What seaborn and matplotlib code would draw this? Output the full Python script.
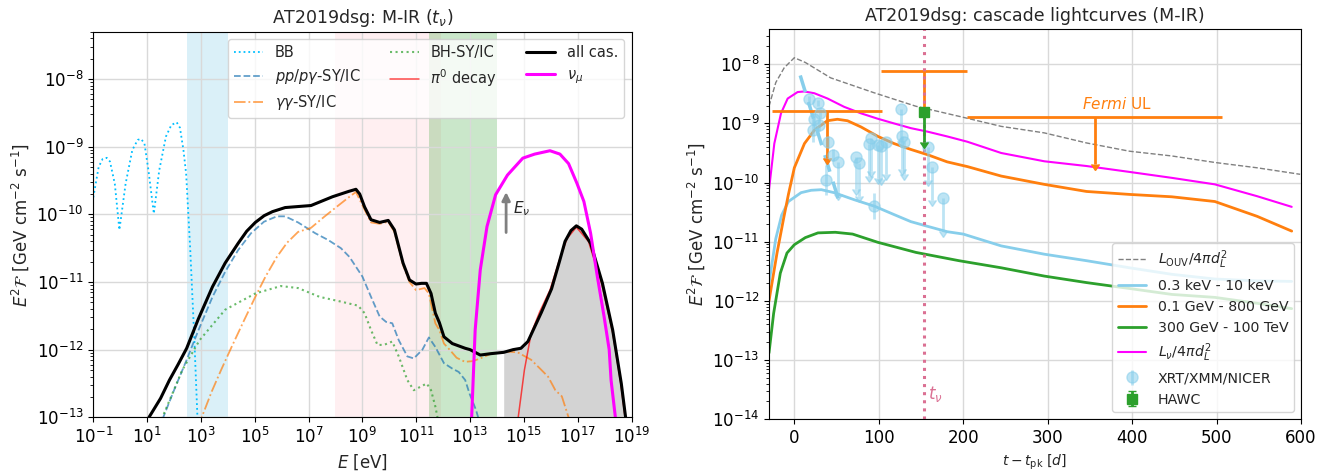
"""AT2019dsg M-IR model: cascade spectrum at t_nu (left) and cascade lightcurves (right)."""

import numpy as np
import matplotlib

matplotlib.use("Agg")
import matplotlib.pyplot as plt
import seaborn as sns
from matplotlib.ticker import NullLocator

# ---------------------------------------------------------------------------
# Left panel: spectra, stored as log10(E / eV) and log10(E^2 F / GeV cm^-2 s^-1)
# ---------------------------------------------------------------------------
BB_LOGE = [-1.0, -0.8, -0.65, -0.5, -0.38, -0.2, -0.03, 0.2, 0.45, 0.65, 0.77, 0.9,
           1.05, 1.25, 1.45, 1.7, 1.9, 2.1, 2.22, 2.35, 2.45, 2.6, 2.75, 2.87, 2.95]
BB_LOGF = [-9.75, -9.3, -9.18, -9.165, -9.22, -9.55, -10.23, -9.55, -9.05, -8.9, -8.885, -8.95,
           -9.35, -9.99, -9.35, -8.85, -8.68, -8.64, -8.72, -9.05, -9.4, -10.5, -11.8, -13.0, -13.6]

PP_LOGE = [1.4, 1.6, 2.0, 2.47, 2.9, 3.43, 3.9, 4.38, 4.86, 5.34, 5.82, 6.13, 6.61, 7.25,
           7.73, 8.2, 8.52, 9.0, 9.32, 9.64, 9.88, 10.11, 10.35, 10.67, 10.91, 11.23, 11.47,
           11.71, 12.03, 12.34, 12.58, 12.82, 12.98, 13.22, 13.3, 13.4]
PP_LOGF = [-13.15, -13.0, -12.6, -12.15, -11.72, -11.22, -10.85, -10.53, -10.28, -10.11,
           -10.03, -10.03, -10.12, -10.28, -10.38, -10.5, -10.63, -10.92, -11.22, -11.51,
           -11.59, -11.61, -11.86, -12.1, -12.13, -12.0, -11.82, -11.96, -12.2, -12.28,
           -12.33, -12.45, -12.65, -12.89, -13.0, -13.2]

GG_LOGE = [2.9, 3.03, 3.4, 3.75, 4.14, 4.6, 5.02, 5.4, 5.82, 6.2, 6.61, 7.09, 7.57, 8.04,
           8.52, 8.76, 9.08, 9.32, 9.64, 9.96, 10.19, 10.51, 10.75, 10.99, 11.31, 11.47,
           11.71, 11.86, 12.03, 12.24, 12.5, 12.81, 13.1, 13.38, 13.78, 14.39, 14.77, 15.27,
           15.6, 15.9, 16.17, 16.41, 16.66, 16.75]
GG_LOGF = [-13.15, -13.0, -12.62, -12.3, -11.96, -11.57, -11.22, -10.92, -10.63, -10.42,
           -10.26, -10.2, -10.04, -9.89, -9.74, -9.67, -9.93, -10.12, -10.14, -10.11, -10.26,
           -10.75, -11.0, -11.12, -11.09, -11.17, -11.61, -11.71, -11.91, -12.0, -12.12,
           -12.18, -12.17, -12.13, -12.06, -12.03, -12.04, -12.15, -12.28, -12.4, -12.6,
           -12.69, -13.0, -13.2]

BH_LOGE = [1.45, 1.6, 2.31, 2.95, 3.9, 5.02, 5.97, 6.61, 7.41, 8.2, 8.84, 9.08, 9.32, 9.56,
           9.8, 10.11, 10.35, 10.67, 10.91, 11.15, 11.39, 11.55, 11.71, 11.79, 11.85]
BH_LOGF = [-13.1, -12.97, -12.3, -11.86, -11.41, -11.17, -11.06, -11.09, -11.22, -11.29, -11.35,
           -11.46, -11.71, -11.93, -11.93, -11.88, -12.1, -12.45, -12.6, -12.55, -12.5, -12.6,
           -12.84, -13.0, -13.2]

PI0_LOGE = [14.7, 14.79, 15.02, 15.27, 15.59, 15.97, 16.3, 16.6, 16.95, 17.4, 17.9, 18.3,
            18.6, 18.76, 18.85]
PI0_LOGF = [-13.5, -13.0, -12.3, -11.76, -11.44, -11.12, -10.7, -10.36, -10.19, -10.4, -11.04,
            -11.75, -12.5, -13.0, -13.4]

ALL_LOGE = [0.9, 1.07, 1.5, 1.83, 2.15, 2.47, 2.9, 3.43, 3.9, 4.38, 4.7, 5.02, 5.35, 5.66,
            6.13, 7.09, 7.89, 8.5, 8.76, 8.9, 9.08, 9.32, 9.64, 9.96, 10.19, 10.51, 10.75,
            10.99, 11.2, 11.38, 11.55, 11.71, 11.86, 12.03, 12.34, 12.82, 13.0, 13.38, 13.76,
            14.25, 14.6, 14.89, 15.15, 15.65, 16.03, 16.32, 16.53, 16.75, 16.95, 17.15, 17.48,
            17.92, 18.3, 18.62, 18.78, 18.85]
ALL_LOGF = [-13.15, -13.0, -12.72, -12.45, -12.22, -11.98, -11.55, -11.07, -10.72, -10.43,
            -10.25, -10.12, -10.02, -9.96, -9.9, -9.87, -9.74, -9.66, -9.63, -9.7, -9.89,
            -10.08, -10.12, -10.09, -10.23, -10.72, -10.97, -11.03, -11.02, -11.02, -11.17,
            -11.46, -11.6, -11.81, -11.91, -11.98, -12.0, -12.08, -12.06, -12.04, -12.0,
            -11.98, -11.88, -11.45, -11.1, -10.7, -10.4, -10.24, -10.17, -10.22, -10.43,
            -11.02, -11.71, -12.5, -13.0, -13.3]

NU_LOGE = [13.0, 13.06, 13.19, 13.38, 13.63, 13.95, 14.39, 14.96, 15.4, 15.97, 16.34, 16.66,
           16.97, 17.23, 17.48, 17.73, 17.98, 18.17, 18.24, 18.4, 18.45]
NU_LOGF = [-13.4, -13.0, -11.71, -10.82, -10.18, -9.71, -9.42, -9.17, -9.11, -9.06, -9.11, -9.25,
           -9.54, -9.81, -10.28, -10.92, -11.51, -12.0, -12.45, -13.0, -13.3]

# energy bands (log10 eV): 0.3-10 keV, 0.1-800 GeV, 300 GeV-100 TeV
BAND_XRAY = (np.log10(300.0), 4.0)
BAND_FERMI = (8.0, np.log10(8e11))
BAND_HAWC = (np.log10(3e11), 14.0)
GRAY_FILL_FROM = 14.25

# ---------------------------------------------------------------------------
# Right panel: lightcurves, t - t_pk [d] and log10 flux
# ---------------------------------------------------------------------------
OUV_T = [-30, -22, -12, 0, 13, 43, 94, 144, 195, 245, 296, 346, 397, 447, 498, 548, 599]
OUV_LOGF = [-8.71, -8.31, -8.06, -7.89, -7.97, -8.23, -8.48, -8.71, -8.88, -9.05, -9.16,
            -9.33, -9.47, -9.55, -9.66, -9.75, -9.86]

XRAY_T = [-30, -22, -15, -7, 0, 8, 20, 32, 47, 71, 95, 118, 138, 158, 181, 200, 245, 296,
          346, 397, 447, 498, 548, 589]
XRAY_LOGF = [-11.7, -10.95, -10.55, -10.32, -10.25, -10.17, -10.13, -10.12, -10.17, -10.29,
             -10.4, -10.54, -10.66, -10.74, -10.83, -10.87, -11.07, -11.21, -11.32, -11.44,
             -11.55, -11.63, -11.66, -11.67]

GEV_T = [-30, -20.5, -12.6, -7, 0, 12, 24, 39, 51, 63, 79, 99, 118, 138, 158, 181, 205, 245,
         296, 346, 397, 447, 498, 548, 589]
GEV_LOGF = [-12.0, -11.19, -10.6, -10.2, -9.75, -9.34, -9.11, -8.955, -8.93, -8.955, -9.06,
            -9.22, -9.34, -9.44, -9.53, -9.65, -9.73, -9.89, -10.03, -10.15, -10.2, -10.24,
            -10.32, -10.57, -10.82]

TEV_T = [-30, -24.5, -16.6, -8.7, 0, 13, 28, 48.5, 69, 99, 144, 195, 245, 296, 346, 397, 447,
         498, 548, 589]
TEV_LOGF = [-12.88, -12.21, -11.53, -11.19, -11.05, -10.93, -10.85, -10.84, -10.87, -11.01,
            -11.18, -11.32, -11.44, -11.58, -11.69, -11.79, -11.89, -11.94, -12.04, -12.13]

NU_T = [-30, -23.7, -15.8, -7.9, 3.9, 11.8, 23.7, 39.4, 59, 79, 98.6, 118, 138, 158, 181,
        205, 245, 296, 346, 397, 447, 498, 548, 589]
NU_LC_LOGF = [-10.12, -9.34, -8.83, -8.58, -8.47, -8.46, -8.49, -8.58, -8.72, -8.83, -8.92,
              -9.0, -9.08, -9.14, -9.22, -9.31, -9.5, -9.64, -9.72, -9.82, -9.92, -10.03,
              -10.23, -10.41]

XRT_FIT_T = [7, 53]
XRT_FIT_LOGF = [-8.19, -10.32]

XRT_DET_T = [17, 27.6, 30.8, 23.7, 21.7, 29.6, 39.4, 45.4, 37.5, 94.7]
XRT_DET_LOGF = [-8.58, -8.66, -8.83, -8.92, -9.11, -9.03, -9.31, -9.53, -9.96, -10.4]
XRT_DET_ERR = [0.05, 0.05, 0.08, 0.1, 0.2, 0.1, 0.1, 0.1, 0.25, 0.22]

XRT_UL_T = [51.3, 73, 77, 88.8, 90.7, 98.6, 102.6, 108.5, 126, 128, 130, 158, 163, 175.5]
XRT_UL_LOGF = [-9.65, -9.56, -9.67, -9.34, -9.25, -9.37, -9.39, -9.31, -8.75, -9.22, -9.31,
               -9.4, -9.74, -10.26]
XRT_UL_DROP = 0.55  # arrow length in dex

FERMI_T = [38.5, 153.5, 355.5]
FERMI_HALF = [65, 50.5, 151.5]
FERMI_LOGF = [-8.79, -8.11, -8.89]
FERMI_LOGF_END = [-9.58, -8.75, -9.69]

HAWC_T = [154]
HAWC_LOGF = [-8.8]
HAWC_LOGF_END = [-9.31]

T_NU = 154

# text / arrow anchors
ENU_ARROW_LOGE, ENU_ARROW_FROM, ENU_ARROW_TO = 14.34, -10.31, -9.63
ENU_TEXT = (14.6, -9.92)
FERMI_TEXT = (382, -8.67)
TNU_TEXT = (158, -13.58)


def pw(a):
    return 10.0 ** np.asarray(a, dtype=float)


def line(ax, x, y, **kw):
    sns.lineplot(x=x, y=y, ax=ax, estimator=None, sort=False, **kw)


def main() -> None:
    sns.set_style("ticks")
    plt.rcParams["font.family"] = ["DejaVu Sans"]
    plt.rcParams["axes.edgecolor"] = "black"
    plt.rcParams["xtick.color"] = "black"
    plt.rcParams["ytick.color"] = "black"

    fig = plt.figure(figsize=(13.27, 4.72), dpi=100)
    ax1 = fig.add_axes([0.0703, 0.1159, 0.4056, 0.8169])
    ax2 = fig.add_axes([0.5795, 0.1117, 0.4009, 0.8263])

    # ---------------------------------------------------------------- left
    ax1.set_xscale("log")
    ax1.set_yscale("log")
    ax1.axvspan(*pw(BAND_XRAY), color="skyblue", alpha=0.3, lw=0, zorder=0)
    ax1.axvspan(*pw(BAND_FERMI), color="pink", alpha=0.25, lw=0, zorder=0)
    ax1.axvspan(*pw(BAND_HAWC), color="C2", alpha=0.25, lw=0, zorder=0)

    all_e = np.asarray(ALL_LOGE)
    mask = all_e >= GRAY_FILL_FROM
    ax1.fill_between(pw(all_e[mask]), pw(np.asarray(ALL_LOGF)[mask]), 1e-14,
                     color="lightgray", lw=0, zorder=0.6)

    line(ax1, pw(BB_LOGE), pw(BB_LOGF), color="deepskyblue", ls=":", lw=1.3, label="BB")
    line(ax1, pw(PP_LOGE), pw(PP_LOGF), color="C0", alpha=0.7, ls="--", lw=1.3,
         label=r"$pp/p\gamma$-SY/IC")
    line(ax1, pw(GG_LOGE), pw(GG_LOGF), color="C1", alpha=0.7, ls="-.", lw=1.3,
         label=r"$\gamma\gamma$-SY/IC")
    line(ax1, pw(BH_LOGE), pw(BH_LOGF), color="C2", alpha=0.7, ls=":", lw=1.5,
         label="BH-SY/IC")
    line(ax1, pw(PI0_LOGE), pw(PI0_LOGF), color="red", alpha=0.7, lw=1.1,
         label=r"$\pi^0$ decay")
    line(ax1, pw(ALL_LOGE), pw(ALL_LOGF), color="black", lw=2.2, label="all cas.")
    line(ax1, pw(NU_LOGE), pw(NU_LOGF), color="magenta", lw=2.2, label=r"$\nu_\mu$")

    ax1.annotate("", xy=(10 ** ENU_ARROW_LOGE, 10 ** ENU_ARROW_TO),
                 xytext=(10 ** ENU_ARROW_LOGE, 10 ** ENU_ARROW_FROM),
                 arrowprops=dict(arrowstyle="-|>", color="gray", lw=2, mutation_scale=12))
    ax1.text(10 ** ENU_TEXT[0], 10 ** ENU_TEXT[1], r"$E_\nu$", fontsize=11, va="center")

    ax1.set_xticks([10.0 ** k for k in range(-1, 20, 2)])
    ax1.xaxis.set_minor_locator(NullLocator())
    ax1.set_yticks([10.0 ** k for k in range(-13, -7)])
    ax1.set_xlim(1e-1, 1e19)
    ax1.set_ylim(1e-13, 5e-8)
    ax1.grid(True, which="major", color="0.85", lw=1.0)
    ax1.tick_params(labelsize=12)
    ax1.set_xlabel(r"$E$ [eV]", fontsize=12)
    ax1.set_ylabel(r"$E^2\mathcal{F}$ [GeV cm$^{-2}$ s$^{-1}$]", fontsize=12)
    ax1.set_title(r"AT2019dsg: M-IR ($t_\nu$)", fontsize=12.5)
    ax1.legend(ncol=3, loc="upper right", fontsize=10.5)

    # ---------------------------------------------------------------- right
    ax2.set_yscale("log")
    line(ax2, OUV_T, pw(OUV_LOGF), color="gray", ls="--", lw=1.0,
         label=r"$L_{\rm OUV}/4\pi d_L^2$")
    line(ax2, XRAY_T, pw(XRAY_LOGF), color="skyblue", lw=2.0, label="0.3 keV - 10 keV")
    line(ax2, GEV_T, pw(GEV_LOGF), color="C1", lw=2.0, label="0.1 GeV - 800 GeV")
    line(ax2, TEV_T, pw(TEV_LOGF), color="C2", lw=2.0, label="300 GeV - 100 TeV")
    line(ax2, NU_T, pw(NU_LC_LOGF), color="magenta", lw=1.5, label=r"$L_\nu/4\pi d_L^2$")

    ax2.plot(XRT_FIT_T, pw(XRT_FIT_LOGF), color="skyblue", ls=(0, (5, 3)), lw=2.5)

    det_f = pw(XRT_DET_LOGF)
    det_e = np.asarray(XRT_DET_ERR)
    ax2.errorbar(XRT_DET_T, det_f, yerr=[det_f - det_f * 10 ** -det_e, det_f * 10 ** det_e - det_f],
                 fmt="o", ms=8, color="skyblue", alpha=0.55, lw=2, label="XRT/XMM/NICER")
    ul_f = pw(XRT_UL_LOGF)
    ax2.errorbar(XRT_UL_T, ul_f, yerr=ul_f - ul_f * 10 ** -XRT_UL_DROP, uplims=True,
                 fmt="o", ms=8, color="skyblue", alpha=0.55, lw=2)

    fermi_f = pw(FERMI_LOGF)
    ax2.errorbar(FERMI_T, fermi_f, xerr=FERMI_HALF, yerr=fermi_f - pw(FERMI_LOGF_END),
                 uplims=True, fmt="none", color="C1", lw=2, ms=8)
    ax2.text(FERMI_TEXT[0], 10 ** FERMI_TEXT[1], r"$\it{Fermi}$ UL", color="C1",
             fontsize=11, ha="center", va="center")

    ax2.axvline(T_NU, color="palevioletred", ls=":", lw=2.2)
    ax2.text(TNU_TEXT[0], 10 ** TNU_TEXT[1], r"$t_\nu$", color="palevioletred",
             fontsize=12, va="center")

    hawc_f = pw(HAWC_LOGF)
    ax2.errorbar(HAWC_T, hawc_f, yerr=hawc_f - pw(HAWC_LOGF_END), uplims=True,
                 fmt="s", ms=7, color="C2", lw=2, capsize=3, zorder=5, label="HAWC")

    ax2.set_xticks(range(0, 601, 100))
    ax2.set_yticks([10.0 ** k for k in range(-14, -7)])
    ax2.set_xlim(-30, 600)
    ax2.set_ylim(1e-14, 3.9e-8)
    ax2.grid(True, which="major", color="0.85", lw=1.0)
    ax2.tick_params(labelsize=12)
    ax2.set_xlabel(r"$t - t_{\rm pk}$ [$d$]", fontsize=10)
    ax2.set_ylabel(r"$E^2\mathcal{F}$ [GeV cm$^{-2}$ s$^{-1}$]", fontsize=12)
    ax2.set_title("AT2019dsg: cascade lightcurves (M-IR)", fontsize=12.5)
    ax2.legend(loc="lower right", fontsize=10.2)

    fig.savefig("out.png", dpi=100)


if __name__ == "__main__":
    main()
